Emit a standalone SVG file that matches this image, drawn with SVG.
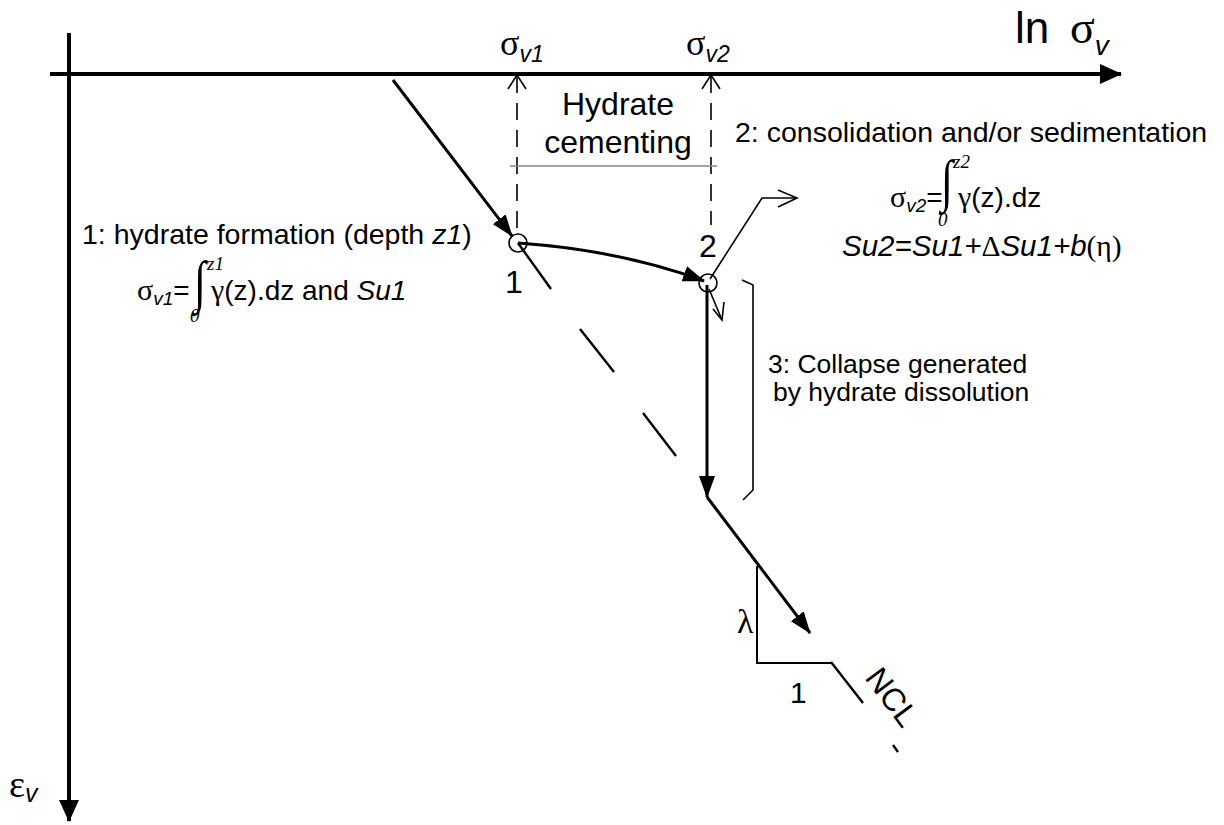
<svg xmlns="http://www.w3.org/2000/svg" width="1224" height="825" viewBox="0 0 1224 825">
<style>
.t{font-family:"Liberation Sans",Arial,sans-serif;fill:#000}
.g{font-family:"Liberation Serif","Times New Roman",serif;fill:#000}
.i{font-style:italic}
.ax{stroke:#000;stroke-width:4;fill:none}
.main{stroke:#000;stroke-width:3;fill:none}
.thin{stroke:#000;stroke-width:1.6;fill:none}
.dash{stroke:#000;stroke-width:1.6;fill:none;stroke-dasharray:17 10}
</style>
<defs>
<marker id="ah" viewBox="0 0 22 20" refX="21" refY="10" markerWidth="22" markerHeight="20" markerUnits="userSpaceOnUse" orient="auto">
<path d="M0,0 L22,10 L0,20 z" fill="#000"/>
</marker>
<marker id="am" viewBox="0 0 22 16" refX="21" refY="8" markerWidth="22" markerHeight="16" markerUnits="userSpaceOnUse" orient="auto">
<path d="M0,0 L22,8 L0,16 z" fill="#000"/>
</marker>
</defs>
<rect width="1224" height="825" fill="#fff"/>
<g id="axes">
<line class="ax" x1="50" y1="74" x2="1121" y2="74" marker-end="url(#ah)"/>
<line class="ax" x1="69" y1="33" x2="69" y2="821" marker-end="url(#ah)"/>
</g>
<g id="connectors">
<line class="main" x1="393" y1="80" x2="512" y2="236" marker-end="url(#am)"/>
<path class="main" d="M518,243 Q620,250 704,281" marker-end="url(#am)"/>
<line class="main" x1="707" y1="285" x2="707" y2="497" marker-end="url(#am)"/>
<line class="main" x1="707" y1="497" x2="810" y2="633" marker-end="url(#am)"/>
<g id="ncl-line" stroke="#000" stroke-width="2.4">
<line x1="518" y1="243" x2="551" y2="289"/>
<line x1="580" y1="329" x2="614" y2="372"/>
<line x1="643" y1="413" x2="676" y2="456"/>
<line x1="831" y1="662" x2="863" y2="703"/>
<line x1="893" y1="745" x2="898" y2="752"/>
</g>
<line class="dash" x1="517" y1="76" x2="517" y2="235"/>
<polyline class="thin" points="508,89 517,75 526,89"/>
<line class="dash" x1="711" y1="76" x2="711" y2="225"/>
<polyline class="thin" points="702,89 711,75 720,89"/>
<line x1="510" y1="166" x2="717" y2="166" stroke="#888" stroke-width="1.4"/>
<polyline class="thin" points="710,279 762,198 797,198"/>
<polyline class="thin" points="778,190 797,198 778,207"/>
<polyline class="thin" points="709,289 722,320"/>
<polyline class="thin" points="713,309 722,320 724,302"/>
<polyline class="thin" points="742,280 753,285 753,490 743,500"/>
<polyline stroke="#000" stroke-width="2" fill="none" points="757,566 757,663 831,663"/>
</g>
<g id="node-1">
<circle cx="518" cy="243" r="9" class="thin"/>
<text class="t" x="505" y="293" font-size="32">1</text>
</g>
<g id="node-2">
<circle cx="708" cy="283" r="9" class="thin"/>
<text class="t" x="699" y="257" font-size="32">2</text>
</g>
<g id="labels">
<text class="t" x="1015" y="43" font-size="44">ln</text>
<text class="g" x="1070" y="43" font-size="46">σ<tspan class="t i" font-size="28" dy="12">v</tspan></text>
<text class="g" x="500" y="55" font-size="36">σ<tspan class="t i" font-size="23" dy="7">v1</tspan></text>
<text class="g" x="686" y="55" font-size="36">σ<tspan class="t i" font-size="23" dy="7">v2</tspan></text>
<text class="t" x="618" y="115" font-size="32" text-anchor="middle">Hydrate</text>
<text class="t" x="618" y="153" font-size="32" text-anchor="middle">cementing</text>
<text class="t" x="735" y="142" font-size="28.5">2: consolidation and/or sedimentation</text>
<text class="g" x="890" y="207" font-size="30">σ<tspan class="t i" font-size="19" dy="5">v2</tspan><tspan class="t" font-size="28" dy="-5">=</tspan></text>
<text class="g" transform="translate(941,200) scale(0.9,1.2)" font-size="48">∫</text>
<text class="g i" x="953" y="168" font-size="19">z2</text>
<text class="g i" x="938" y="226" font-size="19">0</text>
<text class="g" x="958" y="207" font-size="30">γ<tspan class="t" font-size="28">(z).dz</tspan></text>
<text class="t i" x="842" y="256" font-size="29.5">Su2=Su1+<tspan class="g" font-style="normal">Δ</tspan>Su1+b<tspan class="g" font-style="normal">(η)</tspan></text>
<text class="t" x="82" y="244" font-size="28.5">1: hydrate formation (depth <tspan class="i">z1</tspan>)</text>
<text class="g" x="137" y="300" font-size="30">σ<tspan class="t i" font-size="19" dy="5">v1</tspan><tspan class="t" font-size="28" dy="-5">=</tspan></text>
<text class="g" transform="translate(194,301) scale(0.9,1.2)" font-size="48">∫</text>
<text class="g i" x="207" y="270" font-size="19">z1</text>
<text class="g i" x="190" y="322" font-size="19">0</text>
<text class="g" x="211" y="300" font-size="30">γ<tspan class="t" font-size="28">(z).dz and <tspan class="i">Su1</tspan></tspan></text>
<text class="t" x="768" y="373" font-size="26.5">3: Collapse generated</text>
<text class="t" x="773" y="401" font-size="26.5">by hydrate dissolution</text>
<text class="g" x="737" y="633" font-size="34">λ</text>
<text class="t" x="790" y="703" font-size="30">1</text>
<text class="t" x="864" y="678" font-size="32" transform="rotate(53.13 864 678)">NCL</text>
<text class="g" x="9" y="797" font-size="38">ε<tspan class="t i" font-size="25" dy="5">v</tspan></text>
</g>
</svg>
